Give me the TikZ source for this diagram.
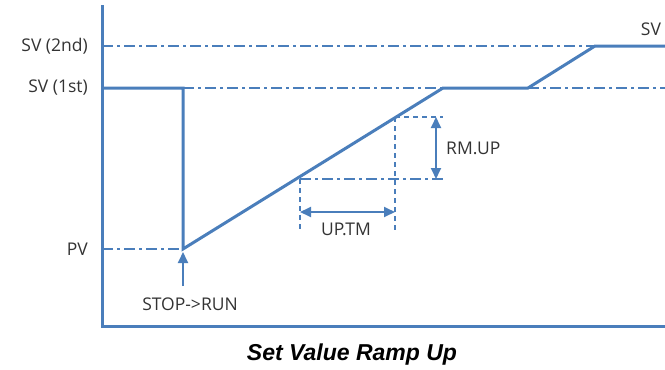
\documentclass[tikz,border=0pt]{standalone}
\usepackage{fontspec}
\setmainfont{Open Sans}
\newfontfamily\titlefont{Liberation Sans}
\usetikzlibrary{arrows.meta}
\definecolor{lineblue}{HTML}{4A7EBB}
\tikzset{
  curve/.style={draw=lineblue, line width=3pt, line join=miter},
  axisline/.style={draw=lineblue, line width=3pt},
  guide/.style={draw=lineblue, line width=1.3pt, dash pattern=on 11pt off 4pt on 3pt off 4pt},
  dashguide/.style={draw=lineblue, line width=1.3pt, dash pattern=on 5pt off 4pt},
  dimarrow/.style={draw=lineblue, line width=1.8pt, {Triangle[length=11pt,width=10pt]}-{Triangle[length=11pt,width=10pt]}},
  uparrow/.style={draw=lineblue, line width=1.8pt, -{Triangle[length=11pt,width=10pt]}},
  lbl/.style={font=\fontsize{17.5}{20}\selectfont, text=black!80, inner sep=0pt},
}
\begin{document}
\begin{tikzpicture}[x=1pt,y=-1pt]
\useasboundingbox (0,0) rectangle (665,370);

% axes
\coordinate (ytop) at (102,5);
\coordinate (origin) at (102,326);
\coordinate (xend) at (665,326);
\draw[axisline] (ytop) -- (origin) -- (xend);

% levels on the y axis
\coordinate (sv2) at (102,46);
\coordinate (sv1) at (102,88);
\coordinate (pv) at (102,249);

% profile corners
\coordinate (drop) at (183,88);
\coordinate (start) at (183,249);
\coordinate (reach1) at (443,88);
\coordinate (hold) at (528,88);
\coordinate (reach2) at (595,46);
\coordinate (tail) at (665,46);
\coordinate (sv1end) at (665,88);

% reference lines
\draw[guide] (sv2) -- (reach2);
\draw[guide] (drop) -- (reach1);
\draw[guide] (hold) -- (sv1end);
\draw[guide] (pv) -- (start);

% set value profile
\draw[curve] (sv1) -- (drop) -- (start) -- (reach1) -- (hold) -- (reach2) -- (tail);

% ramp rate construction
\coordinate (rlow) at (300,179);
\coordinate (rhigh) at (395,117);
\coordinate (hlowend) at (443,179);
\coordinate (hhighend) at (443,117);
\coordinate (vl) at (300,232);
\coordinate (vr) at (395,232);
\draw[guide] (rlow) -- (hlowend);
\draw[dashguide] (rhigh) -- (hhighend);
\draw[dashguide] (rlow) -- (vl);
\draw[dashguide] (rhigh) -- (vr);

\coordinate (rmtop) at (436,117);
\coordinate (rmbot) at (436,179);
\draw[dimarrow] (rmtop) -- (rmbot);
\coordinate (tml) at (300,212);
\coordinate (tmr) at (395,212);
\draw[dimarrow] (tml) -- (tmr);

% start trigger
\coordinate (trig) at (183,286);
\draw[uparrow] (trig) -- ([yshift=-3pt]start);

% labels
\node[lbl, anchor=east] (lsv2) at (88,46) {SV (2nd)};
\node[lbl, anchor=east] (lsv1) at (88,88) {SV (1st)};
\node[lbl, anchor=east] (lpv) at (88,249) {PV};
\node[lbl] (lsv) at (651,29) {SV};
\node[lbl, anchor=west] (lrm) at (446,148) {RM.UP};
\node[lbl] (ltm) at (346,229) {UP.TM};
\node[lbl] (lrun) at (190,304) {STOP->RUN};

% caption
\node[font=\titlefont\bfseries\itshape\fontsize{23}{27}\selectfont, inner sep=0pt] (title) at (352,355) {Set Value Ramp Up};
\end{tikzpicture}
\end{document}
